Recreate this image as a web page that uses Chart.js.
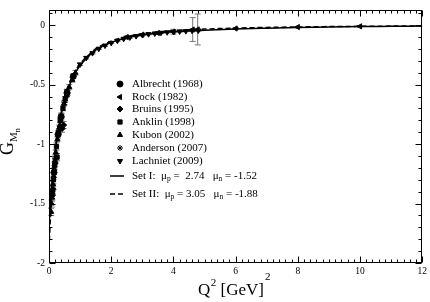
<!DOCTYPE html>
<html>
<head>
<meta charset="utf-8">
<script src="https://cdn.jsdelivr.net/npm/chart.js@4.4.0/dist/chart.umd.min.js"></script>
<style>
  html, body { margin: 0; padding: 0; background: #fff; }
  #wrap { width: 430px; height: 302px; position: relative; }
</style>
</head>
<body>
<div id="wrap"><canvas id="chart"></canvas></div>
<script>
// ── Data ───────────────────────────────────────────────────

const X_TICKS = [0, 2, 4, 6, 8, 10, 12];
const Y_TICKS = [0, -0.5, -1, -1.5, -2];

// model curves
const CURVE_Q2 = [0, 0.02, 0.05, 0.08, 0.1, 0.15, 0.2, 0.25, 0.3, 0.4, 0.5, 0.6, 0.7, 0.8, 1.0, 1.2, 1.5, 2, 2.5, 3, 3.5, 4, 5, 6, 7, 8, 9, 10, 11, 12];
const SET1_G   = [-1.70, -1.62, -1.50, -1.39, -1.32, -1.18, -1.06, -0.96, -0.88, -0.74, -0.63, -0.55, -0.48, -0.42, -0.34, -0.28, -0.21, -0.145, -0.105, -0.082, -0.066, -0.056, -0.042, -0.032, -0.025, -0.019, -0.015, -0.012, -0.010, -0.008];
const SET2_G   = [-1.88, -1.76, -1.60, -1.46, -1.38, -1.21, -1.07, -0.96, -0.87, -0.73, -0.62, -0.53, -0.46, -0.405, -0.325, -0.27, -0.20, -0.135, -0.097, -0.073, -0.058, -0.047, -0.033, -0.025, -0.019, -0.015, -0.012, -0.010, -0.008, -0.007];

// experiments
const ALBRECHT_Q2  = [0.16, 0.29, 0.39, 0.58, 0.78];
const ALBRECHT_G   = [-1.24, -0.92, -0.77, -0.57, -0.43];
const ALBRECHT_ERR = [0.04, 0.03, 0.03, 0.03, 0.02];

const ROCK_Q2  = [2.5, 3.0, 3.5, 4.0, 4.62, 4.78, 6.0, 8.0, 10.0];
const ROCK_G   = [-0.100, -0.080, -0.066, -0.055, -0.037, -0.036, -0.028, -0.016, -0.010];
const ROCK_ERR = [0.010, 0.010, 0.012, 0.020, 0.100, 0.130, 0.006, 0.005, 0.005];

const BRUINS_Q2  = [0.11, 0.13, 0.20, 0.36, 0.42, 0.47];
const BRUINS_G   = [-1.43, -1.38, -1.16, -0.85, -0.87, -0.84];
const BRUINS_ERR = [0.04, 0.04, 0.03, 0.03, 0.03, 0.03];

const ANKLIN_Q2  = [0.10, 0.14, 0.18, 0.24, 0.26, 0.31, 0.36, 0.45, 0.52, 0.58];
const ANKLIN_G   = [-1.40, -1.30, -1.18, -1.02, -1.11, -0.90, -0.80, -0.70, -0.62, -0.56];
const ANKLIN_ERR = [0.03, 0.03, 0.03, 0.03, 0.03, 0.02, 0.02, 0.02, 0.02, 0.02];

const KUBON_Q2  = [0.071, 0.085, 0.10, 0.115, 0.13, 0.15, 0.17, 0.19, 0.22, 0.27, 0.33, 0.40, 0.48, 0.56, 0.65, 0.75, 0.85];
const KUBON_G   = [-1.57, -1.50, -1.45, -1.39, -1.34, -1.27, -1.21, -1.14, -1.07, -0.96, -0.86, -0.76, -0.66, -0.59, -0.52, -0.46, -0.40];
const KUBON_ERR = [0.03, 0.03, 0.03, 0.03, 0.03, 0.03, 0.03, 0.03, 0.02, 0.02, 0.02, 0.02, 0.02, 0.02, 0.02, 0.02, 0.02];

const ANDERSON_Q2  = [0.10, 0.20, 0.30, 0.40, 0.50, 0.60];
const ANDERSON_G   = [-1.41, -1.12, -0.91, -0.77, -0.65, -0.57];
const ANDERSON_ERR = [0.03, 0.03, 0.02, 0.02, 0.02, 0.02];

const LACHNIET_Q2  = [1.0, 1.2, 1.4, 1.6, 1.8, 2.0, 2.2, 2.4, 2.6, 2.8, 3.0, 3.2, 3.4, 3.6, 3.8, 4.0, 4.2, 4.4, 4.6, 4.8];
const LACHNIET_G   = [-0.33, -0.275, -0.235, -0.198, -0.172, -0.149, -0.131, -0.115, -0.103, -0.092, -0.083, -0.076, -0.070, -0.064, -0.060, -0.056, -0.053, -0.050, -0.047, -0.045];
const LACHNIET_ERR = [0.010, 0.009, 0.008, 0.007, 0.007, 0.006, 0.006, 0.006, 0.006, 0.005, 0.005, 0.005, 0.005, 0.005, 0.005, 0.005, 0.005, 0.005, 0.005, 0.005];

const SET_NAMES = ['Set I:', 'Set II:'];
const MU_P      = ['2.74', '3.05'];
const MU_N      = ['-1.52', '-1.88'];

// ── Build datasets ────────────────────────────────────────

const SERIF = '"Liberation Serif", "Times New Roman", serif';
const MARK_R = 3;
const EXPERIMENTS = [
  { label: 'Albrecht (1968)', q2: ALBRECHT_Q2, g: ALBRECHT_G, err: ALBRECHT_ERR, style: 'circle',   rot: 0 },
  { label: 'Rock (1982)',     q2: ROCK_Q2,     g: ROCK_G,     err: ROCK_ERR,     style: 'triangle', rot: -90 },
  { label: 'Bruins (1995)',   q2: BRUINS_Q2,   g: BRUINS_G,   err: BRUINS_ERR,   style: 'rectRot',  rot: 0 },
  { label: 'Anklin (1998)',   q2: ANKLIN_Q2,   g: ANKLIN_G,   err: ANKLIN_ERR,   style: 'rect',     rot: 0 },
  { label: 'Kubon (2002)',    q2: KUBON_Q2,    g: KUBON_G,    err: KUBON_ERR,    style: 'triangle', rot: 0 },
  { label: 'Anderson (2007)', q2: ANDERSON_Q2, g: ANDERSON_G, err: ANDERSON_ERR, style: 'star',     rot: 0 },
  { label: 'Lachniet (2009)', q2: LACHNIET_Q2, g: LACHNIET_G, err: LACHNIET_ERR, style: 'triangle', rot: 180 },
];

const pointDatasets = EXPERIMENTS.map(e => ({
  label: e.label,
  data: e.q2.map((q, i) => ({ x: q, y: e.g[i] })),
  errors: e.err,
  pointStyle: e.style,
  rotation: e.rot,
  pointRadius: MARK_R,
  backgroundColor: '#000',
  borderColor: '#000',
  borderWidth: 1,
  showLine: false,
}));

const curveDatasets = [SET1_G, SET2_G].map((vals, k) => ({
  label: SET_NAMES[k],
  data: CURVE_Q2.map((q, i) => ({ x: q, y: vals[i] })),
  showLine: true,
  pointRadius: 0,
  borderColor: '#000',
  borderWidth: 1.5,
  borderDash: k === 1 ? [5, 3] : [],
  cubicInterpolationMode: 'monotone',
}));

// ── Plugins ──────────────────────────────────────────────

const errorBars = {
  id: 'errorBars',
  beforeDatasetsDraw(chart) {
    const { ctx, scales: { x, y } } = chart;
    ctx.save();
    ctx.strokeStyle = '#777';
    ctx.lineWidth = 1;
    chart.data.datasets.forEach(ds => {
      if (!ds.errors) return;
      ds.data.forEach((p, i) => {
        const px = x.getPixelForValue(p.x);
        const y1 = y.getPixelForValue(p.y + ds.errors[i]);
        const y2 = y.getPixelForValue(p.y - ds.errors[i]);
        ctx.beginPath();
        ctx.moveTo(px, y1); ctx.lineTo(px, y2);
        ctx.moveTo(px - 3, y1); ctx.lineTo(px + 3, y1);
        ctx.moveTo(px - 3, y2); ctx.lineTo(px + 3, y2);
        ctx.stroke();
      });
    });
    ctx.restore();
  },
};

const frameTicks = {
  id: 'frameTicks',
  afterDraw(chart) {
    const { ctx, chartArea: a, scales: { x, y } } = chart;
    ctx.save();
    ctx.strokeStyle = '#000';
    ctx.lineWidth = 1;
    const L = Math.round(a.left) + 0.5, R = Math.round(a.right) - 0.5;
    const T = Math.round(a.top) + 0.5, B = Math.round(a.bottom) - 0.5;
    ctx.strokeRect(L, T, R - L, B - T);
    ctx.beginPath();
    for (let i = 0; i <= 60; i++) {            // x minor step 0.2
      const px = Math.round(x.getPixelForValue(i * 0.2)) + 0.5;
      const len = i % 10 === 0 ? 6 : 3;
      ctx.moveTo(px, B); ctx.lineTo(px, B - len);
      ctx.moveTo(px, T); ctx.lineTo(px, T + len);
    }
    for (let i = -20; i <= 1; i++) {           // y minor step 0.1
      const py = Math.round(y.getPixelForValue(i * 0.1)) + 0.5;
      const len = i % 5 === 0 ? 6 : 3;
      ctx.moveTo(L, py); ctx.lineTo(L + len, py);
      ctx.moveTo(R, py); ctx.lineTo(R - len, py);
    }
    ctx.stroke();

    // axis titles
    ctx.fillStyle = '#000';
    ctx.textBaseline = 'alphabetic';
    ctx.font = '17px ' + SERIF;
    let tx = 198;
    ctx.fillText('Q', tx, 295); tx += ctx.measureText('Q').width + 0.5;
    ctx.font = '11px ' + SERIF;
    ctx.fillText('2', tx, 286); tx += ctx.measureText('2').width;
    ctx.font = '17px ' + SERIF;
    ctx.fillText(' [GeV]', tx, 295); tx += ctx.measureText(' [GeV]').width + 1;
    ctx.font = '11px ' + SERIF;
    ctx.fillText('2', tx, 280);

    ctx.translate(13, 155);
    ctx.rotate(-Math.PI / 2);
    ctx.font = '18px ' + SERIF;
    ctx.fillText('G', 0, 0);
    let gx = ctx.measureText('G').width;
    ctx.font = '11px ' + SERIF;
    ctx.fillText('M', gx, 4);
    gx += ctx.measureText('M').width;
    ctx.font = '8px ' + SERIF;
    ctx.fillText('n', gx, 7);
    ctx.restore();
  },
};

const insetLegend = {
  id: 'insetLegend',
  afterDraw(chart) {
    const { ctx } = chart;
    const rowsY = [84, 97, 109, 122, 135, 148, 161];
    ctx.save();
    ctx.fillStyle = '#000';
    ctx.strokeStyle = '#000';
    ctx.textBaseline = 'middle';
    ctx.font = '11px ' + SERIF;
    EXPERIMENTS.forEach((e, i) => {
      ctx.lineWidth = 1;
      Chart.helpers.drawPoint(ctx, { pointStyle: e.style, rotation: e.rot, radius: MARK_R, borderWidth: 1 }, 120, rowsY[i]);
      ctx.fillText(e.label, 132, rowsY[i] + 0.5);
    });
    [176, 194].forEach((ly, k) => {
      ctx.lineWidth = 1.5;
      ctx.setLineDash(k === 1 ? [5, 3] : []);
      ctx.beginPath(); ctx.moveTo(110, ly); ctx.lineTo(124, ly); ctx.stroke();
      ctx.setLineDash([]);
      const parts = [
        [SET_NAMES[k] + '  \u03bc', 11, 0],
        ['p', 7.5, 3],
        [' = ' + (k === 0 ? ' ' : '') + MU_P[k] + '   \u03bc', 11, 0],
        ['n', 7.5, 3],
        [' = ' + MU_N[k], 11, 0],
      ];
      let tx = 132;
      parts.forEach(([txt, size, dy]) => {
        ctx.font = size + 'px ' + SERIF;
        ctx.fillText(txt, tx, ly + dy);
        tx += ctx.measureText(txt).width;
      });
    });
    ctx.restore();
  },
};

// ── Chart ────────────────────────────────────────────────

new Chart(document.getElementById('chart'), {
  type: 'scatter',
  data: { datasets: [...curveDatasets, ...pointDatasets] },
  options: {
    animation: false, responsive: true, maintainAspectRatio: false,
    layout: { padding: { top: 3, right: 7, left: 0, bottom: 0 } },
    plugins: { legend: { display: false }, tooltip: { enabled: false } },
    scales: {
      x: {
        type: 'linear', min: 0, max: 12,
        grid: { display: false, drawTicks: false },
        border: { display: false },
        ticks: { font: { family: SERIF, size: 9.5 }, color: '#000', padding: 3, maxRotation: 0, callback: v => String(v) },
        afterBuildTicks: s => { s.ticks = X_TICKS.map(v => ({ value: v })); },
        afterFit: s => { s.height = 39; },
      },
      y: {
        type: 'linear', min: -2, max: 0.13,
        grid: { display: false, drawTicks: false },
        border: { display: false },
        ticks: { font: { family: SERIF, size: 9.5 }, color: '#000', padding: 4, callback: v => String(v) },
        afterBuildTicks: s => { s.ticks = Y_TICKS.map(v => ({ value: v })); },
        afterFit: s => { s.width = 49; },
      },
    },
  },
  plugins: [errorBars, frameTicks, insetLegend],
});
</script>
</body>
</html>
